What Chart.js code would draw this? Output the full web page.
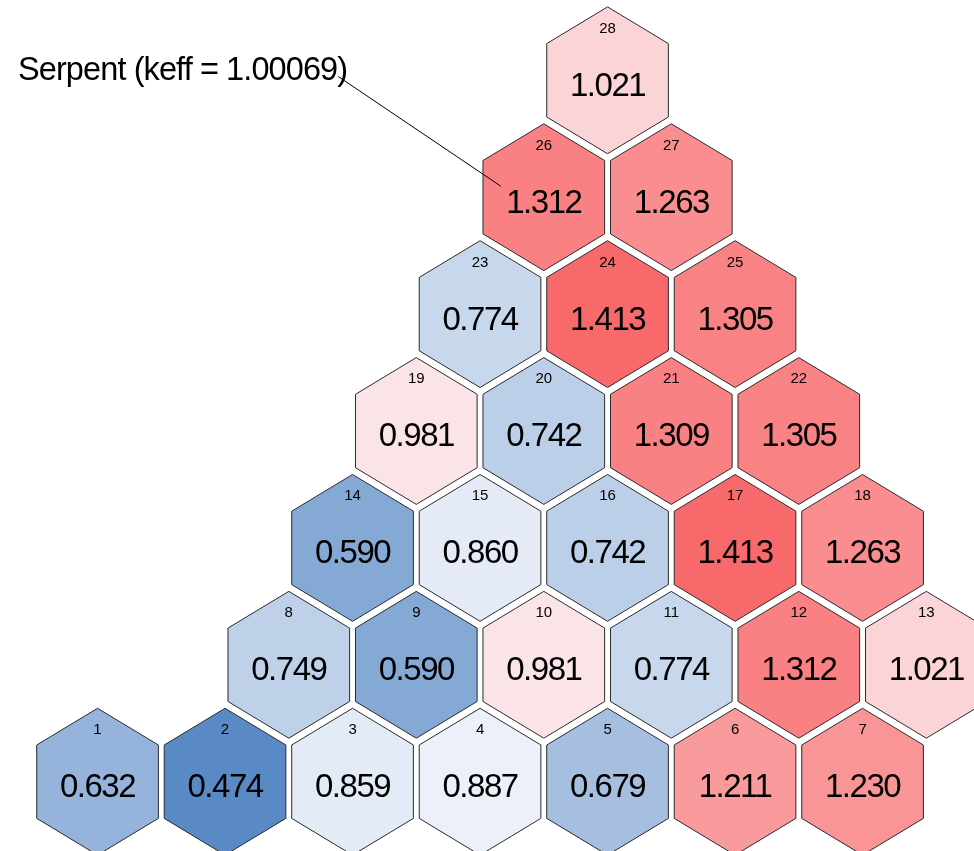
<!DOCTYPE html>
<html>
<head>
<meta charset="utf-8">
<script src="https://cdn.jsdelivr.net/npm/chart.js@4.4.1/dist/chart.umd.min.js"></script>
<style>
  html, body { margin: 0; padding: 0; background: #ffffff; }
  #wrap { width: 974px; height: 851px; }
</style>
</head>
<body>
<div id="wrap"><canvas id="c" width="974" height="851"></canvas></div>
<script>
// Assembly numbers, in order
const assemblyIds = [1, 2, 3, 4, 5, 6, 7,
                     8, 9, 10, 11, 12, 13,
                     14, 15, 16, 17, 18,
                     19, 20, 21, 22,
                     23, 24, 25,
                     26, 27,
                     28];
// Relative assembly power (Serpent)
const assemblyPower = [0.632, 0.474, 0.859, 0.887, 0.679, 1.211, 1.230,
                       0.749, 0.590, 0.981, 0.774, 1.312, 1.021,
                       0.590, 0.860, 0.742, 1.413, 1.263,
                       0.981, 0.742, 1.309, 1.305,
                       0.774, 1.413, 1.305,
                       1.312, 1.263,
                       1.021];
// Lattice position: column in half-pitch units, and row index from the bottom
const latticeCol = [0, 2, 4, 6, 8, 10, 12,
                    3, 5, 7, 9, 11, 13,
                    4, 6, 8, 10, 12,
                    5, 7, 9, 11,
                    6, 8, 10,
                    7, 9,
                    8];
const latticeRow = [0, 0, 0, 0, 0, 0, 0,
                    1, 1, 1, 1, 1, 1,
                    2, 2, 2, 2, 2,
                    3, 3, 3, 3,
                    4, 4, 4,
                    5, 5,
                    6];
const titleText = 'Serpent (keff = 1.00069)';
const calloutAssembly = 26;

// Blue - white - red colour scale over the power range
const lowColor = [0x5A, 0x8A, 0xC6];
const midColor = [0xFC, 0xFC, 0xFF];
const highColor = [0xF8, 0x69, 0x6B];
const pMin = Math.min(...assemblyPower);
const pMax = Math.max(...assemblyPower);
const pMid = (pMin + pMax) / 2;
function mix(a, b, t) {
  return 'rgb(' + a.map((v, i) => Math.round(v + (b[i] - v) * t)).join(',') + ')';
}
function powerColor(v) {
  if (v <= pMid) return mix(midColor, lowColor, Math.pow((pMid - v) / (pMid - pMin), 1.1));
  return mix(midColor, highColor, Math.pow((v - pMid) / (pMax - pMid), 0.72));
}

const points = assemblyIds.map((id, i) => ({ x: latticeCol[i], y: latticeRow[i] }));

// Hexagon geometry in data units
const HALF_W = 0.954;   // half flat-to-flat width (x units)
const TIP = 0.628;      // centre to top vertex (row units)
const SHOULDER = 0.314; // centre to side-edge ends (row units)

const hexPlugin = {
  id: 'hexCells',
  afterDatasetsDraw(chart) {
    const ctx = chart.ctx;
    const xs = chart.scales.x, ys = chart.scales.y;
    const meta = chart.getDatasetMeta(0);
    const hw = Math.abs(xs.getPixelForValue(HALF_W) - xs.getPixelForValue(0));
    const tip = Math.abs(ys.getPixelForValue(TIP) - ys.getPixelForValue(0));
    const sh = Math.abs(ys.getPixelForValue(SHOULDER) - ys.getPixelForValue(0));
    ctx.save();
    meta.data.forEach((el, i) => {
      const cx = el.x, cy = el.y;
      ctx.beginPath();
      ctx.moveTo(cx, cy - tip);
      ctx.lineTo(cx + hw, cy - sh);
      ctx.lineTo(cx + hw, cy + sh);
      ctx.lineTo(cx, cy + tip);
      ctx.lineTo(cx - hw, cy + sh);
      ctx.lineTo(cx - hw, cy - sh);
      ctx.closePath();
      ctx.fillStyle = powerColor(assemblyPower[i]);
      ctx.fill();
      ctx.lineWidth = 1;
      ctx.strokeStyle = '#2b2b2b';
      ctx.stroke();

      ctx.fillStyle = '#000000';
      ctx.textAlign = 'center';
      ctx.textBaseline = 'alphabetic';
      ctx.font = '15px "Liberation Sans", Arial, sans-serif';
      ctx.letterSpacing = '0px';
      ctx.fillText(String(assemblyIds[i]), cx, cy - 47.5);
      ctx.font = '33px "Liberation Sans", Arial, sans-serif';
      ctx.letterSpacing = '-1.5px';
      ctx.fillText(assemblyPower[i].toFixed(3), cx, cy + 15.5);
    });

    // Title with leader line to the callout assembly
    ctx.font = '32.5px "Liberation Sans", Arial, sans-serif';
    ctx.letterSpacing = '-0.9px';
    ctx.textAlign = 'left';
    ctx.textBaseline = 'alphabetic';
    ctx.fillStyle = '#000000';
    const tx = 18, ty = 80;
    ctx.fillText(titleText, tx, ty);
    const tw = ctx.measureText(titleText).width;
    const k = assemblyIds.indexOf(calloutAssembly);
    const target = meta.data[k];
    ctx.beginPath();
    ctx.moveTo(tx + tw - 9, ty - 3.5);
    ctx.lineTo(target.x - 43, target.y - 11);
    ctx.lineWidth = 1;
    ctx.strokeStyle = '#000000';
    ctx.stroke();
    ctx.restore();
  }
};

new Chart(document.getElementById('c'), {
  type: 'scatter',
  data: {
    datasets: [{
      data: points,
      pointRadius: 0,
      pointHoverRadius: 0,
      showLine: false
    }]
  },
  options: {
    responsive: false,
    animation: false,
    devicePixelRatio: 1,
    layout: { padding: 0 },
    plugins: { legend: { display: false }, tooltip: { enabled: false } },
    scales: {
      x: { type: 'linear', min: -1.53, max: 13.748, display: false },
      y: { type: 'linear', min: -0.593, max: 6.687, display: false }
    }
  },
  plugins: [hexPlugin]
});
</script>
</body>
</html>
